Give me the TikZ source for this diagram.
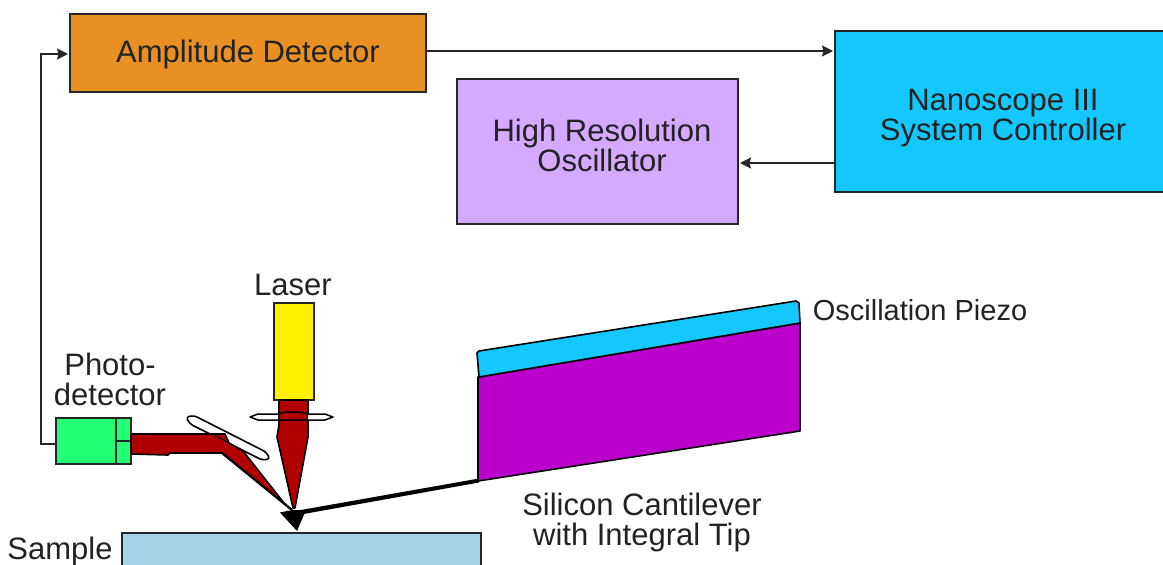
\documentclass[tikz,border=0pt]{standalone}
\usepackage{fontspec}
\setmainfont{Liberation Sans}
\usetikzlibrary{arrows.meta}
\definecolor{cOrange}{HTML}{E89023}
\definecolor{cLilac}{HTML}{D4A9FF}
\definecolor{cCyan}{HTML}{14C8FF}
\definecolor{cMagenta}{HTML}{BB00CC}
\definecolor{cYellow}{HTML}{FFF000}
\definecolor{cGreen}{HTML}{22FF77}
\definecolor{cRed}{HTML}{B00000}
\definecolor{cSample}{HTML}{A6D2E8}
\definecolor{cText}{HTML}{222222}
\tikzset{
  x=1pt,y=-1pt,
  box/.style={draw=black!85,line width=1.9pt,outer sep=0pt,anchor=north west,inner sep=0pt,text=cText,align=center,font=\fontsize{31}{30}\selectfont},
  lbl/.style={text=cText,align=center,inner sep=0pt,font=\fontsize{31}{30}\selectfont},
  flow/.style={draw=black!85,line width=1.4pt,shorten >=2pt,-{Stealth[length=11pt,width=11pt,inset=1.5pt]}},
  outline/.style={draw=black,line width=1.6pt,line join=round},
}
\begin{document}
\begin{tikzpicture}
\useasboundingbox (0,0) rectangle (1163,565);
\clip (0,0) rectangle (1163,565);
% boxes
\node[box,fill=cOrange,minimum width=356pt,minimum height=78pt] (amp) at (70,14) {};
\node[box,fill=cLilac,minimum width=281pt,minimum height=145pt] (hro) at (457,79) {};
\node[box,fill=cCyan,minimum width=340pt,minimum height=161pt] (ctrl) at (835,31) {};
\node[box,fill=cSample,minimum width=359pt,minimum height=60pt] (sample) at (122,533) {};
\node[box,fill=cYellow,minimum width=40pt,minimum height=97pt] (laser) at (274,303) {};
\node[box,fill=cGreen,minimum width=75pt,minimum height=46pt] (pd) at (56,418) {};
% box texts
\node[lbl] (tamp) at (248,54) {Amplitude Detector};
\node[lbl] (thro) at (602,145) {High Resolution\\Oscillator};
\node[lbl] (tctrl) at (1003,118) {Nanoscope III\\System Controller};
% labels
\node[lbl] (tlaser) at (293,285) {Laser};
\node[lbl] (tpd) at (110,379) {Photo-\\detector};
\node[lbl] (tsample) at (60,551) {Sample};
\node[lbl,font=\fontsize{29}{30}\selectfont] (tpiezo) at (920,310) {Oscillation Piezo};
\node[lbl] (tcant) at (642,522.5) {Silicon Cantilever\\with Integral Tip};
% connectors
\coordinate (ampout) at (426,51);
\coordinate (ctrlin) at (835,51);
\coordinate (ctrlout) at (835,163);
\coordinate (hroin) at (738,163);
\coordinate (pdout) at (56,444);
\coordinate (fb) at (41,444);
\coordinate (ampin) at (70,54);
\draw[flow] (ampout) -- (ctrlin);
\draw[flow] (ctrlout) -- (hroin);
\draw[flow] (pdout) -- (fb) |- (ampin);
% photodetector divisions
\draw[draw=black!85,line width=1.9pt] (116,418) -- (116,464) (116,441) -- (131,441);
% incident beam
\draw[outline,fill=cRed] (279,400) -- (279,425) -- (277,437) -- (293,508) -- (295,508) -- (308,437) -- (308,400) -- cycle;
% lens
\fill[white] (252,417) -- (258,415) -- (278,415) -- (278,419.5) -- (258,419.5) -- cycle;
\fill[white] (308,415) -- (325,415) -- (331,417) -- (325,419.5) -- (308,419.5) -- cycle;
\draw[line width=1.5pt,line join=round] (250,417) -- (258,414) -- (278,414) -- (285,412) -- (300,412) -- (308,414) -- (325,414) -- (333,417) -- (325,420) -- (258,420) -- cycle;
% mirror
\draw[outline,fill=white,rounded corners=3pt] (186,417) -- (194,415.5) -- (266,452) -- (270,459) -- (262,460) -- (190,424) -- cycle;
% reflected beam
\draw[outline,fill=cRed] (131,434) -- (212,434) -- (225,434) -- (229,443) -- (243,451) -- (284,503) -- (292,510) -- (222,453) -- (170,453) -- (168,455) -- (131,454) -- cycle;
\draw[line width=1pt] (212,434) -- (229,443);
\draw[line width=2.2pt] (222,453) -- (292,510);
% tip and cantilever
\fill[black] (280,512.5) -- (292,510) -- (306,510) -- (297,531) -- cycle;
\fill[black] (298,510.5) -- (479,478.5) -- (479,482.5) -- (298,515) -- cycle;
% piezo stack
\draw[outline,fill=cMagenta] (478,377) -- (800,323) -- (800,431) -- (478,481) -- cycle;
\draw[outline,fill=cCyan] (477,353) -- (479,351) -- (796,301) -- (799,303) -- (800,323) -- (479,377) -- cycle;
\end{tikzpicture}
\end{document}
